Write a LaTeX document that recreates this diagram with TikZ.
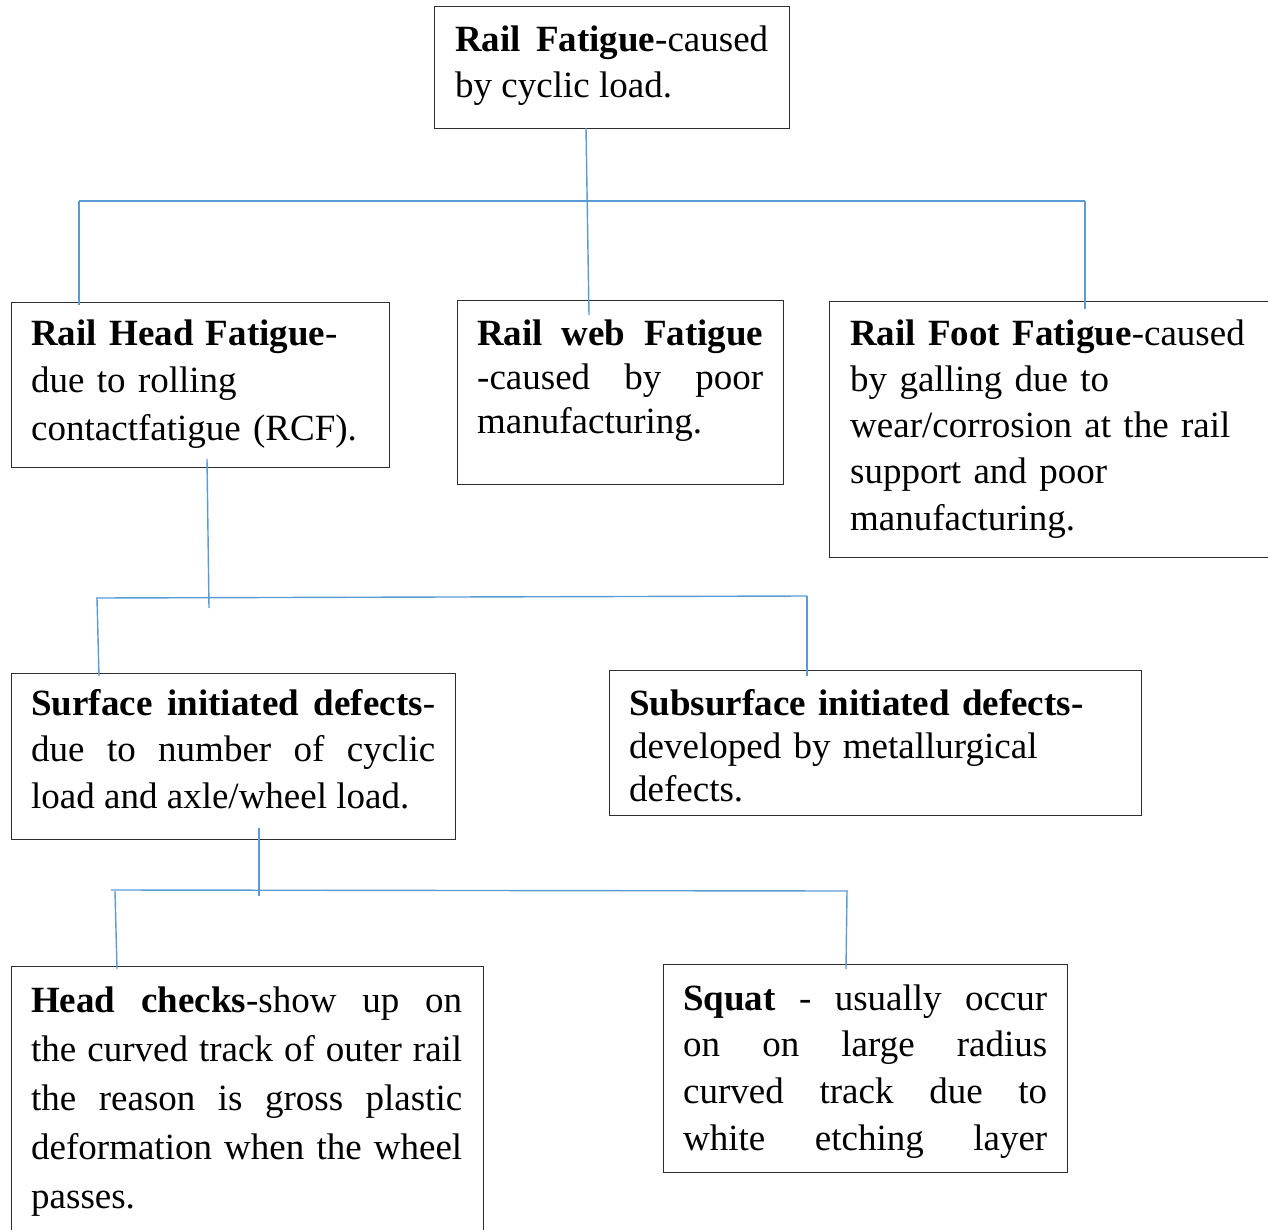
\documentclass[tikz,border=0pt]{standalone}
\usepackage{fontspec}
\setmainfont{Liberation Serif}
\definecolor{linkblue}{RGB}{91,155,213}
\definecolor{bord}{RGB}{45,45,45}
\hyphenpenalty=10000
\exhyphenpenalty=10000
\tolerance=10000
\begin{document}
\begin{tikzpicture}[x=1pt,y=-1pt,
  box/.style={draw=bord, line width=1.3pt, inner sep=0pt, anchor=north west},
  txt/.style={anchor=base west, inner sep=0pt, font=\fontsize{37}{#1}\selectfont},
  link/.style={draw=linkblue, line width=1.4pt}]
\useasboundingbox (0,0) rectangle (1268,1230);

% boxes
\node[box, minimum width=355pt, minimum height=122pt] (top) at (434,6) {};
\node[box, minimum width=378pt, minimum height=165pt] (head) at (11,302) {};
\node[box, minimum width=326pt, minimum height=184pt] (web) at (457,300) {};
\node[box, minimum width=445pt, minimum height=256pt] (foot) at (829,301) {};
\node[box, minimum width=444pt, minimum height=166pt] (surf) at (11,673) {};
\node[box, minimum width=532pt, minimum height=145pt] (sub) at (609,670) {};
\node[box, minimum width=472pt, minimum height=285pt] (hc) at (11,966) {};
\node[box, minimum width=404pt, minimum height=208pt] (sq) at (663,964) {};

% texts
\node[txt=46, text width=313pt, align=justify] (topt) at (455,52)
  {\textbf{Rail Fatigue}-caused\linebreak by cyclic load.};
\node[txt=47.5, text width=345pt, align=left] (headt) at (31,345)
  {\textbf{Rail Head Fatigue}-\\due to rolling\\contactfatigue (RCF).};
\node[txt=44, text width=286pt, align=justify] (webt) at (477,345)
  {\textbf{Rail web Fatigue}\linebreak -caused by poor\linebreak manufacturing.};
\node[txt=46.3, text width=410pt, align=left] (foott) at (850,345)
  {\textbf{Rail Foot Fatigue}-caused\\by galling due to\\wear/corrosion at the rail\\support and poor\\manufacturing.};
\node[txt=46.5, text width=404pt, align=justify] (surft) at (31,715)
  {\textbf{Surface initiated defects}-\linebreak due to number of cyclic\linebreak load and axle/wheel load.};
\node[txt=43, text width=480pt, align=left] (subt) at (629,715)
  {\textbf{Subsurface initiated defects-}\\developed by metallurgical\\defects.};
\node[txt=49, text width=431pt, align=justify] (hct) at (31,1012)
  {\textbf{Head checks}-show up on\linebreak the curved track of outer rail\linebreak the reason is gross plastic\linebreak deformation when the wheel\linebreak passes.};
\node[txt=46.7, text width=364pt, align=justify] (sqt) at (683,1010)
  {\textbf{Squat} - usually occur\linebreak on on large radius\linebreak curved track due to\linebreak \makebox[\linewidth][s]{white etching layer}};

% connector junctions
\coordinate (t1) at (586,128);
\coordinate (t2) at (589,315);
\coordinate (hL) at (79,201);
\coordinate (hR) at (1085,201);
\coordinate (dL) at (79,305);
\coordinate (dR) at (1085,309);

\coordinate (m1) at (207,459);
\coordinate (m2) at (209,608);
\coordinate (mL) at (96,598);
\coordinate (mR) at (807,596);
\coordinate (mL2) at (99,676);
\coordinate (mR2) at (807,676);

\coordinate (b1) at (259,828);
\coordinate (b2) at (259,896);
\coordinate (bL) at (111,890);
\coordinate (bR) at (848,891);
\coordinate (bL1) at (115,891);
\coordinate (bL2) at (117,969);
\coordinate (bR1) at (847,891);
\coordinate (bR2) at (846,969);

% connectors
\draw[link] (t1) -- (t2);
\draw[link] (hL) -- (hR);
\draw[link] (hL) -- (dL);
\draw[link] (hR) -- (dR);

\draw[link] (m1) -- (m2);
\draw[link] (mL) -- (mR);
\draw[link] ([xshift=1pt]mL) -- (mL2);
\draw[link] (mR) -- (mR2);

\draw[link] (b1) -- (b2);
\draw[link] (bL) -- (bR);
\draw[link] (bL1) -- (bL2);
\draw[link] (bR1) -- (bR2);
\end{tikzpicture}
\end{document}
